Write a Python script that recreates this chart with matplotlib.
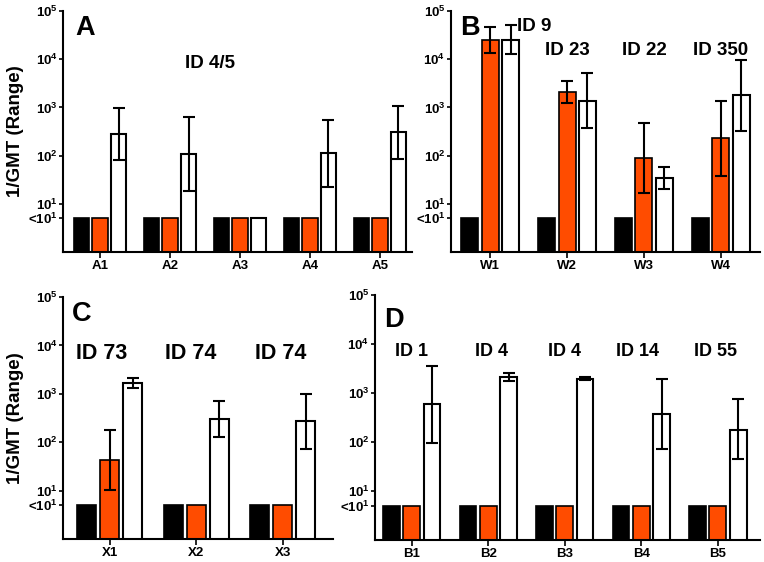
import numpy as np
import matplotlib
matplotlib.use("Agg")
import matplotlib.pyplot as plt

plt.rcParams['font.family'] = ['Liberation Sans', 'DejaVu Sans']
plt.rcParams['font.weight'] = 'bold'
plt.rcParams['mathtext.fontset'] = 'custom'
plt.rcParams['mathtext.rm'] = 'Liberation Sans:bold'
plt.rcParams['mathtext.it'] = 'Liberation Sans:bold'
plt.rcParams['mathtext.bf'] = 'Liberation Sans:bold'

ORANGE = '#FF4C00'
ND = 5  # plotted value for "<10^1"

# panel A
a_names = ['A1', 'A2', 'A3', 'A4', 'A5']
a_black = [ND, ND, ND, ND, ND]
a_orange = [ND, ND, ND, ND, ND]
a_white = [285, 110, ND, 112, 305]
a_white_lo = [83, 18.5, None, 22, 87]
a_white_hi = [980, 640, None, 560, 1080]
a_ids = ['ID 4/5']

# panel B
b_names = ['W1', 'W2', 'W3', 'W4']
b_black = [ND, ND, ND, ND]
b_orange = [25000, 2100, 88, 230]
b_orange_lo = [13600, 1250, 16.5, 38]
b_orange_hi = [47000, 3500, 480, 1350]
b_white = [25000, 1380, 34, 1780]
b_white_lo = [12800, 370, 20, 325]
b_white_hi = [51000, 5100, 57, 9600]
b_ids = ['ID 9', 'ID 23', 'ID 22', 'ID 350']

# panel C
c_names = ['X1', 'X2', 'X3']
c_black = [ND, ND, ND]
c_orange = [43, ND, ND]
c_orange_lo = [10.3, None, None]
c_orange_hi = [180, None, None]
c_white = [1650, 300, 270]
c_white_lo = [1290, 126, 71]
c_white_hi = [2150, 710, 980]
c_ids = ['ID 73', 'ID 74', 'ID 74']

# panel D
d_names = ['B1', 'B2', 'B3', 'B4', 'B5']
d_black = [ND, ND, ND, ND, ND]
d_orange = [ND, ND, ND, ND, ND]
d_white = [600, 2100, 1960, 370, 180]
d_white_lo = [94, 1750, 1860, 71, 46]
d_white_hi = [3600, 2520, 2130, 1950, 740]
d_ids = ['ID 1', 'ID 4', 'ID 4', 'ID 14', 'ID 55']

yticks = [5, 10, 100, 1000, 10000, 100000]
ytick_labels = ['<$10^{1}$', '$10^{1}$', '$10^{2}$', '$10^{3}$', '$10^{4}$', '$10^{5}$']

W = 0.22
OFF = 0.265


def errs(ax, x, vals, lo, hi):
    for xi, v, l, h in zip(x, vals, lo, hi):
        if l is None:
            continue
        ax.errorbar(xi, v, yerr=[[v - l], [h - v]], fmt='none', ecolor='black',
                    elinewidth=1.5, capsize=4, capthick=1.5, zorder=3)


def panel(ax, names, black, orange, white, w_lo, w_hi, o_lo=None, o_hi=None,
          xlim=None, ylabel=True):
    x = np.arange(len(names))
    ax.bar(x - OFF, black, W, color='black', edgecolor='black', linewidth=1.2, zorder=2)
    ax.bar(x, orange, W, color=ORANGE, edgecolor='black', linewidth=1.2, zorder=2)
    ax.bar(x + OFF, white, W, color='white', edgecolor='black', linewidth=1.5, zorder=2)
    if o_lo is not None:
        errs(ax, x, orange, o_lo, o_hi)
    errs(ax, x + OFF, white, w_lo, w_hi)
    ax.set_yscale('log')
    ax.set_ylim(1, 1e5)
    ax.set_xlim(*xlim)
    ax.set_yticks(yticks)
    ax.set_yticklabels(ytick_labels, fontsize=9.5)
    ax.yaxis.set_minor_locator(matplotlib.ticker.NullLocator())
    ax.set_xticks(x)
    ax.set_xticklabels(names, fontsize=9.5, fontweight='bold')
    ax.tick_params(axis='y', length=3, width=1.2, pad=1)
    ax.tick_params(axis='x', length=4, width=1.2, pad=2)
    for s in ['top', 'right']:
        ax.spines[s].set_visible(False)
    for s in ['left', 'bottom']:
        ax.spines[s].set_linewidth(1.5)
    if ylabel:
        ax.set_ylabel('1/GMT (Range)', fontsize=13.5, fontweight='bold', labelpad=3)


fig = plt.figure(figsize=(7.64, 5.62), dpi=100)
axA = fig.add_axes([0.0825, 0.5516, 0.4568, 0.4288])
axB = fig.add_axes([0.5903, 0.5516, 0.4045, 0.4288])
axC = fig.add_axes([0.0825, 0.0409, 0.3534, 0.4306])
axD = fig.add_axes([0.4908, 0.0391, 0.5039, 0.4359])

panel(axA, a_names, a_black, a_orange, a_white, a_white_lo, a_white_hi,
      xlim=(-0.53, 4.46))
panel(axB, b_names, b_black, b_orange, b_white, b_white_lo, b_white_hi,
      b_orange_lo, b_orange_hi, xlim=(-0.51, 3.51), ylabel=False)
panel(axC, c_names, c_black, c_orange, c_white, c_white_lo, c_white_hi,
      c_orange_lo, c_orange_hi, xlim=(-0.54, 2.58))
panel(axD, d_names, d_black, d_orange, d_white, d_white_lo, d_white_hi,
      xlim=(-0.48, 4.55), ylabel=False)

# panel letters
for ax, letter, (lx, ly) in [(axA, 'A', (0.063, 0.93)), (axB, 'B', (0.062, 0.93)),
                             (axC, 'C', (0.07, 0.93)), (axD, 'D', (0.05, 0.9))]:
    ax.text(lx, ly, letter, transform=ax.transAxes, fontsize=19.5, fontweight='bold',
            ha='center', va='center')

# ID annotations
axA.text(1.57, 10 ** 3.92, a_ids[0], fontsize=13.5, fontweight='bold', ha='center', va='center')
for t, xx, yy in zip(b_ids, [0.57, 1.0, 2.0, 3.0], [4.67, 4.19, 4.19, 4.19]):
    axB.text(xx, 10 ** yy, t, fontsize=13.5, fontweight='bold', ha='center', va='center')
for t, xx in zip(c_ids, [-0.09, 0.94, 1.97]):
    axC.text(xx, 10 ** 3.84, t, fontsize=15.5, fontweight='bold', ha='center', va='center')
for t, xx in zip(d_ids, [0.0, 1.04, 2.0, 2.95, 3.97]):
    axD.text(xx, 10 ** 3.84, t, fontsize=13, fontweight='bold', ha='center', va='center')

fig.savefig('out.png', dpi=100)
